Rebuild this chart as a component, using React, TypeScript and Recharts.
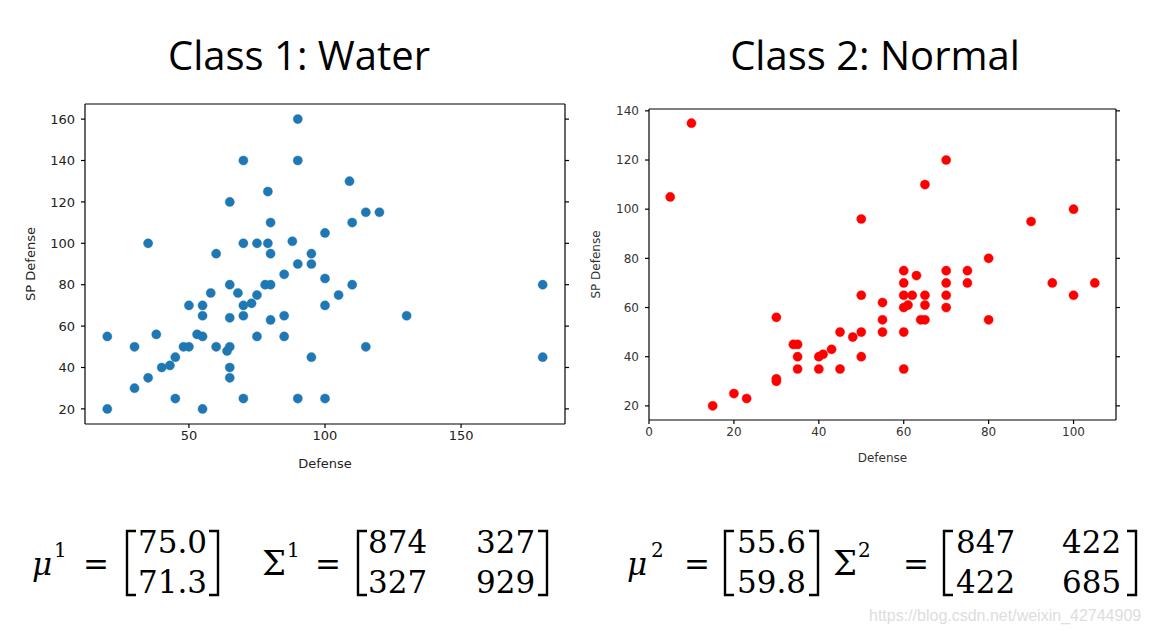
import { ScatterChart, Scatter, XAxis, YAxis } from "recharts";

// Class 1: Water (Defense, SP Defense)
const waterDefense = [
  90, 70, 90, 79, 65, 80, 100, 35, 70, 75, 79, 88, 60, 80, 95, 90, 95, 85, 100, 65,
  58, 68, 78, 80, 75, 50, 55, 70, 73, 100, 55, 65, 70, 80, 85, 20, 38, 53, 55, 75,
  85, 30, 48, 50, 60, 64, 65, 45, 95, 40, 43, 65, 35, 65, 30, 45, 70, 90, 100, 20,
  55, 109, 115, 120, 110, 105, 110, 180, 130, 115, 180,
];
const waterSpDefense = [
  160, 140, 140, 125, 120, 110, 105, 100, 100, 100, 100, 101, 95, 95, 95, 90, 90, 85, 83, 80,
  76, 76, 80, 80, 75, 70, 70, 70, 71, 70, 65, 64, 65, 63, 65, 55, 56, 56, 55, 55,
  55, 50, 50, 50, 50, 48, 50, 45, 45, 40, 41, 40, 35, 35, 30, 25, 25, 25, 25, 20,
  20, 130, 115, 115, 110, 75, 80, 80, 65, 50, 45,
];

// Class 2: Normal (Defense, SP Defense)
const normalDefense = [
  10, 5, 50, 70, 65, 100, 90, 80, 60, 63, 70, 75, 60, 70, 75, 95, 105, 60, 62, 65,
  70, 100, 50, 55, 60, 61, 65, 70, 55, 64, 65, 80, 55, 60, 60, 30, 45, 48, 50, 34,
  35, 43, 35, 40, 41, 50, 35, 40, 45, 30, 30, 20, 23, 15,
];
const normalSpDefense = [
  135, 105, 96, 120, 110, 100, 95, 80, 75, 73, 75, 75, 70, 70, 70, 70, 70, 65, 65, 65,
  65, 65, 65, 62, 60, 61, 61, 60, 55, 55, 55, 55, 50, 50, 35, 56, 50, 48, 50, 45,
  45, 43, 40, 40, 41, 40, 35, 35, 35, 31, 30, 25, 23, 20,
];

const waterXTicks = [50, 100, 150];
const waterYTicks = [20, 40, 60, 80, 100, 120, 140, 160];
const normalXTicks = [0, 20, 40, 60, 80, 100];
const normalYTicks = [20, 40, 60, 80, 100, 120, 140];

const water = waterDefense.map((x, i) => ({ x, y: waterSpDefense[i] }));
const normal = normalDefense.map((x, i) => ({ x, y: normalSpDefense[i] }));

const dot = (color: string) => (p: any) =>
  <circle cx={p.cx} cy={p.cy} r={4.6} fill={color} stroke={color} strokeOpacity={0.5} strokeWidth={0.8} />;

// mirrored axes: tick marks only, no labels
const noLabel = () => <g />;

const axisLine = { stroke: "#000", strokeWidth: 1.2 };
const tickLine = { stroke: "#000", strokeWidth: 1.2 };

function Bracket({ x, left, top = 531, bottom = 595 }: { x: number; left: boolean; top?: number; bottom?: number }) {
  const w = 9;
  const x2 = left ? x + w : x - w;
  return (
    <path
      d={`M${x2} ${top} L${x} ${top} L${x} ${bottom} L${x2} ${bottom}`}
      fill="none"
      stroke="#000"
      strokeWidth={2.4}
    />
  );
}

const serif = { fontFamily: "DejaVu Serif", fontSize: 31, fill: "#000" };
const sup = { fontFamily: "DejaVu Serif", fontSize: 20, fill: "#000" };

function Equation({ sym, mu, sigma, pos }: { sym: string; mu: string[]; sigma: string[][]; pos: number[] }) {
  // pos: mu x, sup x, eq x, [ x, mu col x, ] x, Sigma x, sup x, eq x, [ x, col1 x, col2 x, ] x
  return (
    <g>
      <text x={pos[0]} y={575} {...serif} fontStyle="italic">μ</text>
      <text x={pos[1]} y={557} {...sup}>{sym}</text>
      <text x={pos[2]} y={575} {...serif}>=</text>
      <Bracket x={pos[3]} left />
      <text x={pos[4]} y={553} {...serif}>{mu[0]}</text>
      <text x={pos[4]} y={593} {...serif}>{mu[1]}</text>
      <Bracket x={pos[5]} left={false} />
      <text x={pos[6]} y={575} {...serif} fontSize={34}>Σ</text>
      <text x={pos[7]} y={557} {...sup}>{sym}</text>
      <text x={pos[8]} y={575} {...serif}>=</text>
      <Bracket x={pos[9]} left />
      <text x={pos[10]} y={553} {...serif}>{sigma[0][0]}</text>
      <text x={pos[11]} y={553} {...serif}>{sigma[0][1]}</text>
      <text x={pos[10]} y={593} {...serif}>{sigma[1][0]}</text>
      <text x={pos[11]} y={593} {...serif}>{sigma[1][1]}</text>
      <Bracket x={pos[12]} left={false} />
    </g>
  );
}

export default function App() {
  return (
    <div style={{ position: "absolute", left: 0, top: 0, width: 1149, height: 635, background: "#fff", overflow: "hidden" }}>
      <svg width={1149} height={635} style={{ position: "absolute", left: 0, top: 0 }}>
        <text x={299} y={70} textAnchor="middle" fontFamily="Open Sans" fontSize={40} fill="#000">
          Class 1: Water
        </text>
        <text x={875} y={70} textAnchor="middle" fontFamily="Open Sans" fontSize={40} fill="#000">
          Class 2: Normal
        </text>
        <Equation
          sym="1"
          mu={["75.0", "71.3"]}
          sigma={[["874", "327"], ["327", "929"]]}
          pos={[32, 54, 83, 127, 138, 218, 262, 287, 315, 358, 368, 476, 547]}
        />
        <Equation
          sym="2"
          mu={["55.6", "59.8"]}
          sigma={[["847", "422"], ["422", "685"]]}
          pos={[627, 651, 684, 725, 737, 818, 833, 858, 903, 944, 956, 1062, 1136]}
        />
        <text x={869} y={621} fontFamily="Liberation Sans" fontSize={16} fill="#dddddd">
          https://blog.csdn.net/weixin_42744909
        </text>
      </svg>

      <div style={{ position: "absolute", left: 20, top: 90 }}>
        <ScatterChart width={560} height={390} margin={{ top: 13, right: 14, left: 0, bottom: 0 }}>
          <XAxis
            type="number"
            dataKey="x"
            domain={[11.8, 188.2]}
            ticks={waterXTicks}
            allowDataOverflow
            height={56}
            tickSize={4}
            tickMargin={3}
            axisLine={axisLine}
            tickLine={tickLine}
            tick={{ fontSize: 13, fill: "#222", fontFamily: "DejaVu Sans" }}
            label={{ value: "Defense", position: "insideBottom", offset: 12, fontSize: 13, fill: "#222", fontFamily: "DejaVu Sans" }}
          />
          <XAxis
            xAxisId="top"
            orientation="top"
            type="number"
            domain={[11.8, 188.2]}
            ticks={waterXTicks}
            allowDataOverflow
            height={1}
            tickSize={4}
            axisLine={axisLine}
            tickLine={tickLine}
            tick={noLabel}
          />
          <YAxis
            type="number"
            dataKey="y"
            domain={[12.7, 167.3]}
            ticks={waterYTicks}
            allowDataOverflow
            width={65}
            tickSize={4}
            tickMargin={6}
            axisLine={axisLine}
            tickLine={tickLine}
            tick={{ fontSize: 13, fill: "#222", fontFamily: "DejaVu Sans" }}
            label={{ value: "SP Defense", angle: -90, position: "insideLeft", offset: 10, fontSize: 13, fill: "#222", fontFamily: "DejaVu Sans", style: { textAnchor: "middle" } }}
          />
          <YAxis
            yAxisId="right"
            orientation="right"
            type="number"
            domain={[12.7, 167.3]}
            ticks={waterYTicks}
            allowDataOverflow
            width={1}
            tickSize={4}
            axisLine={axisLine}
            tickLine={tickLine}
            tick={noLabel}
          />
          <Scatter data={water} fill="#1f77b4" shape={dot("#1f77b4")} isAnimationActive={false} />
        </ScatterChart>
      </div>

      <div style={{ position: "absolute", left: 575, top: 95 }}>
        <ScatterChart width={560} height={375} margin={{ top: 13, right: 18, left: 0, bottom: 0 }}>
          <XAxis
            type="number"
            dataKey="x"
            domain={[0, 110]}
            ticks={normalXTicks}
            allowDataOverflow
            height={50}
            tickSize={4}
            tickMargin={3}
            axisLine={axisLine}
            tickLine={tickLine}
            tick={{ fontSize: 12, fill: "#333", fontFamily: "DejaVu Sans" }}
            label={{ value: "Defense", position: "insideBottom", offset: 8, fontSize: 12, fill: "#333", fontFamily: "DejaVu Sans" }}
          />
          <XAxis
            xAxisId="top"
            orientation="top"
            type="number"
            domain={[0, 110]}
            ticks={normalXTicks}
            allowDataOverflow
            height={1}
            tickSize={4}
            axisLine={axisLine}
            tickLine={tickLine}
            tick={noLabel}
          />
          <YAxis
            type="number"
            dataKey="y"
            domain={[14.25, 140.75]}
            ticks={normalYTicks}
            allowDataOverflow
            width={74}
            tickSize={4}
            tickMargin={6}
            axisLine={axisLine}
            tickLine={tickLine}
            tick={{ fontSize: 12, fill: "#333", fontFamily: "DejaVu Sans" }}
            label={{ value: "SP Defense", angle: -90, position: "insideLeft", offset: 21, fontSize: 12, fill: "#333", fontFamily: "DejaVu Sans", style: { textAnchor: "middle" } }}
          />
          <YAxis
            yAxisId="right"
            orientation="right"
            type="number"
            domain={[14.25, 140.75]}
            ticks={normalYTicks}
            allowDataOverflow
            width={1}
            tickSize={4}
            axisLine={axisLine}
            tickLine={tickLine}
            tick={noLabel}
          />
          <Scatter data={normal} fill="#ff0000" shape={dot("#ff0000")} isAnimationActive={false} />
        </ScatterChart>
      </div>
    </div>
  );
}
